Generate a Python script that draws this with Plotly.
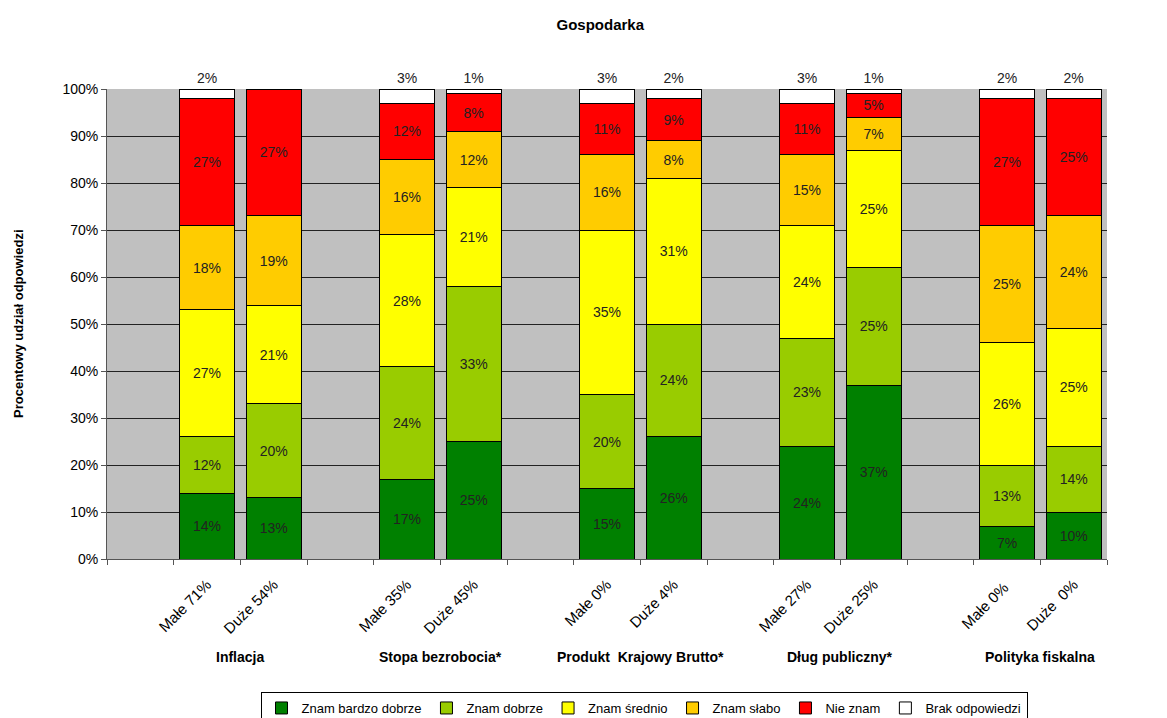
import plotly.graph_objects as go

# kategorie osi x (puste sloty oddzielają grupy)
categories = [" ", "Małe 71%", "Duże 54%", "  ", "Małe 35%", "Duże 45%", "   ",
              "Małe 0%", "Duże 4%", "    ", "Małe 27%", "Duże 25%", "     ",
              "Małe 0% ", "Duże  0%"]
groups = ["Inflacja", "Stopa bezrobocia*", "Produkt  Krajowy Brutto*",
          "Dług publiczny*", "Polityka fiskalna"]
group_pos = [1.5, 4.5, 7.5, 10.5, 13.5]

# wartości w kolejności slotów (None = pusty slot)
bardzo_dobrze = [None, 14, 13, None, 17, 25, None, 15, 26, None, 24, 37, None, 7, 10]
dobrze = [None, 12, 20, None, 24, 33, None, 20, 24, None, 23, 25, None, 13, 14]
srednio = [None, 27, 21, None, 28, 21, None, 35, 31, None, 24, 25, None, 26, 25]
slabo = [None, 18, 19, None, 16, 12, None, 16, 8, None, 15, 7, None, 25, 24]
nie_znam = [None, 27, 27, None, 12, 8, None, 11, 9, None, 11, 5, None, 27, 25]
brak = [None, 2, 0, None, 3, 1, None, 3, 2, None, 3, 1, None, 2, 2]

series = [
    ("Znam bardzo dobrze", bardzo_dobrze, "#008000"),
    ("Znam dobrze", dobrze, "#99cc00"),
    ("Znam średnio", srednio, "#ffff00"),
    ("Znam słabo", slabo, "#ffcc00"),
    ("Nie znam", nie_znam, "#ff0000"),
    ("Brak odpowiedzi", brak, "#ffffff"),
]

FONT = "Liberation Sans, Arial, sans-serif"

fig = go.Figure()

for name, vals, color in series:
    labels = [f"{v}%" if v else "" for v in vals]
    top = name == "Brak odpowiedzi"
    fig.add_trace(
        go.Bar(
            x=categories,
            y=vals,
            name=name,
            text=labels,
            textposition="outside" if top else "inside",
            insidetextanchor="middle",
            textangle=0,
            cliponaxis=False,
            textfont=dict(family=FONT, size=14, color="#222222"),
            marker=dict(color=color, line=dict(color="black", width=1)),
            hoverinfo="name+y",
        )
    )

for g, pos in zip(groups, group_pos):
    fig.add_annotation(
        x=pos, y=-0.2085, xref="x", yref="paper", text=f"<b>{g}</b>",
        xanchor="center", yanchor="middle",
        showarrow=False, font=dict(family=FONT, size=14, color="black"),
    )

fig.add_annotation(
    x=-0.089, y=0.5, xref="paper", yref="paper", xanchor="center",
    yanchor="middle", text="<b>Procentowy udział odpowiedzi</b>", textangle=-90,
    showarrow=False, font=dict(family=FONT, size=13, color="black"),
)

# strona ma 8 px marginesu, więc figura jest odrobinę mniejsza od okna
fig.update_layout(
    title=dict(text="<b>Gospodarka</b>", x=0.511, y=0.976, xanchor="center",
               yanchor="middle", font=dict(family=FONT, size=15, color="black")),
    barmode="stack",
    bargap=0.17,
    width=1159,
    height=710,
    margin=dict(l=99, r=60, t=81, b=159, autoexpand=False),
    paper_bgcolor="white",
    plot_bgcolor="#c0c0c0",
    font=dict(family=FONT, size=12, color="black"),
    showlegend=True,
    legend=dict(
        orientation="h", x=0.537, y=-0.283, xanchor="center", yanchor="top",
        bordercolor="black", borderwidth=1, traceorder="normal",
        font=dict(family=FONT, size=13, color="black"),
        itemwidth=30, tracegroupgap=0,
    ),
    xaxis=dict(
        type="category", tickangle=-45, ticks="outside", tickson="boundaries",
        ticklen=5, tickcolor="#555555", showline=True, linecolor="#555555",
        showgrid=False, tickfont=dict(family=FONT, size=15),
        ticklabelstandoff=10, range=[-0.5, 14.5], automargin=False,
    ),
    yaxis=dict(
        range=[0, 100], dtick=10, ticksuffix="%", ticks="outside", ticklen=5,
        tickcolor="#555555", showline=True, linecolor="#555555",
        gridcolor="#222222", gridwidth=1, zeroline=False,
        tickfont=dict(family=FONT, size=14), automargin=False,
    ),
)

fig.write_html("out.html")
